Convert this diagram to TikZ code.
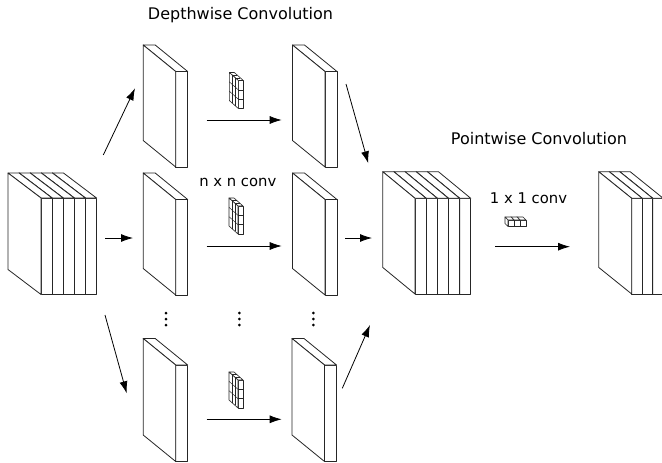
\documentclass[tikz,border=0pt]{standalone}
\usepackage{fontspec}
\setmainfont{DejaVu Sans}
\usepackage{tikz}
\usetikzlibrary{arrows.meta}

% a row of n+1 feature maps: #1,#2 top-left of the first front face,
% #3 strip width, #4 height, #5,#6 depth offset, #7 = n
\newcommand{\fmaps}[7]{%
	\foreach \k in {#7,...,0}{
		\filldraw[face] ({#1+\k*#3},#2) rectangle ++(#3,#4);
		\filldraw[face] ({#1+\k*#3},#2) -- ++(#3,0) -- ++(-#5,-#6) -- ++(-#3,0) -- cycle;
		\filldraw[face] ({#1+\k*#3},#2) -- ++(0,#4) -- ++(-#5,-#6) -- ++(0,-#4) -- cycle;
	}%
}
% n x n x 1 kernel with its grid
\newcommand{\kernel}[2]{%
	\begin{scope}[face/.append style={line width=0.6pt}]
		\fmaps{#1}{#2}{5}{28}{9}{8}{0}
	\end{scope}
	\foreach \i in {1,2}{
		\draw[thinline] (#1,{#2+\i*28/3}) -- ++(5,0);
		\draw[thinline] (#1,{#2+\i*28/3}) -- ++(-9,-8);
		\draw[thinline] ({#1-\i*3},{#2-\i*8/3}) -- ++(0,28);
		\draw[thinline] ({#1-\i*3},{#2-\i*8/3}) -- ++(5,0);
	}%
}

\begin{document}
\begin{tikzpicture}[
	x=1pt, y=-1pt,
	face/.style = {draw=black!85, fill=white, line width=0.8pt, line join=round},
	thinline/.style = {draw=black!85, line width=0.45pt},
	conn/.style = {-{Latex[length=12pt,width=8pt]}, line width=0.8pt},
	title/.style = {font=\fontsize{16}{19}\selectfont, anchor=base},
	oplabel/.style = {font=\fontsize{14.8}{18}\selectfont, anchor=base}
	]
	\clip (0,0) rectangle (662,463);

	% input, split channels, stacked result, output
	\fmaps{41}{198}{11.1}{96.5}{33}{25}{4}
	\fmaps{175.7}{71.5}{12}{95.5}{32.5}{26.5}{0}
	\fmaps{175.7}{199.5}{12}{95.5}{32.5}{26.5}{0}
	\fmaps{175.7}{365}{12}{96.5}{32.5}{26.5}{0}
	\fmaps{325}{71.5}{12}{95.5}{32.5}{26.5}{0}
	\fmaps{325}{199.5}{12}{95.5}{32.5}{26.5}{0}
	\fmaps{324.5}{365}{12}{96.5}{32.5}{26.5}{0}
	\fmaps{415}{198.3}{11.15}{95.7}{32.3}{26.6}{4}
	\fmaps{631.7}{198.3}{10.5}{95.7}{33}{26.6}{2}

	% kernels
	\kernel{238.3}{80.5}
	\kernel{238}{206}
	\kernel{238}{380}
	\begin{scope}[face/.append style={line width=0.6pt}]
		\fmaps{508}{220}{6}{6.5}{3}{3}{2}
	\end{scope}

	% vertical dots
	\foreach \x in {166,239.3,313.3}
		\foreach \y in {313,319,325}
			\fill (\x,\y) circle (1.5);

	% labels
	\node[title] (dwtitle) at (240.5,19.3) {Depthwise Convolution};
	\node[title] (pwtitle) at (539,144) {Pointwise Convolution};
	\node[oplabel] (nxn) at (237.8,186) {n x n conv};
	\node[oplabel] (onebyone) at (528.5,203.3) {1 x 1 conv};

	% arrow ends
	\coordinate (splitA) at (103.3,155);
	\coordinate (splitAt) at (135,88.3);
	\coordinate (splitB) at (105,238);
	\coordinate (splitBt) at (133,238);
	\coordinate (splitC) at (105,315);
	\coordinate (splitCt) at (126.7,393.3);
	\coordinate (convA) at (206.7,120);
	\coordinate (convAt) at (281.7,120);
	\coordinate (convB) at (206.7,246);
	\coordinate (convBt) at (281.7,246);
	\coordinate (convC) at (206.7,419.3);
	\coordinate (convCt) at (281.7,419.3);
	\coordinate (joinA) at (346,84);
	\coordinate (joinAt) at (368.3,163.3);
	\coordinate (joinB) at (345,238);
	\coordinate (joinBt) at (372,238);
	\coordinate (joinC) at (342.3,388.3);
	\coordinate (joinCt) at (370,325);
	\coordinate (pw) at (495,246.7);
	\coordinate (pwt) at (570,246.7);

	\foreach \a in {splitA,splitB,splitC,convA,convB,convC,joinA,joinB,joinC,pw}
		\draw[conn] (\a) -- (\a t);
\end{tikzpicture}
\end{document}
